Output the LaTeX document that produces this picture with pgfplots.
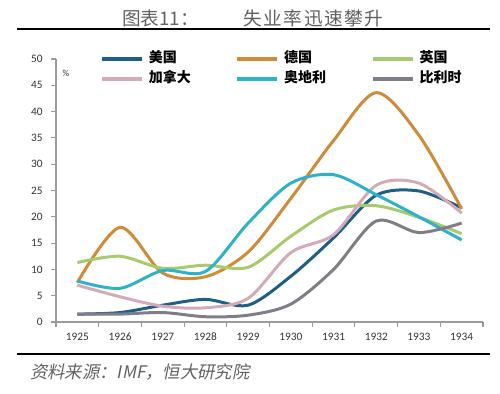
\documentclass[border=0pt]{standalone}
\usepackage{fontspec}
\usepackage{pgfplots}
\pgfplotsset{compat=1.18}
\setmainfont{Carlito}
\newfontfamily\cjk{Noto Sans CJK SC}
\newfontfamily\cjkit[FakeSlant=0.2]{Noto Sans CJK SC}
\definecolor{cUS}{HTML}{1F5E86}
\definecolor{cDE}{HTML}{D08A38}
\definecolor{cUK}{HTML}{A6CA6C}
\definecolor{cCA}{HTML}{D4AAB6}
\definecolor{cAT}{HTML}{2DB2CA}
\definecolor{cBE}{HTML}{7F7E86}
\definecolor{axgray}{HTML}{9A9A9A}
\begin{document}
\begin{tikzpicture}
\path[use as bounding box] (0,0) rectangle (375pt,294.75pt);
\draw[line width=1.5pt] (12.75pt,273pt) -- (367.5pt,273pt);
\draw[line width=1.5pt] (12.75pt,29.25pt) -- (367.5pt,29.25pt);
\node[anchor=west, text=black!62, font=\cjk\fontsize{14}{16}\selectfont, inner sep=0pt] at (91.5pt,281.25pt) {图表11：};
\node[anchor=west, text=black!62, font=\cjk\fontsize{14}{16}\selectfont, inner sep=0pt] at (182.25pt,281.25pt) {失\hspace{1.2pt}业\hspace{1.2pt}率\hspace{1.2pt}迅\hspace{1.2pt}速\hspace{1.2pt}攀\hspace{1.2pt}升};
\node[anchor=west, text=black!62, font=\cjkit\fontsize{13}{15}\selectfont, inner sep=0pt] at (22.5pt,15.75pt) {资料来源：IMF，恒大研究院};
\begin{axis}[at={(42pt,53.25pt)}, anchor=south west, scale only axis,
  width=320.25pt, height=197.25pt,
  xmin=0.5, xmax=10.5, ymin=0, ymax=50,
  axis x line=bottom, axis y line=left,
  axis line style={draw=axgray, line width=0.8pt, -},
  xtick={1,...,10},
  xticklabels={1925,1926,1927,1928,1929,1930,1931,1932,1933,1934},
  minor xtick={0.5,1.5,...,10.5},
  major x tick style={draw=none},
  minor x tick style={draw=axgray, line width=0.8pt},
  ytick={0,5,...,50},
  y tick style={draw=axgray, line width=0.8pt},
  tick align=outside, major tick length=3.5pt, minor tick length=3.5pt,
  ticklabel style={font=\fontsize{8.5}{10}\selectfont, text=black!80},
  yticklabel style={xshift=-3pt},
  xticklabel style={yshift=-1pt},
  /pgf/number format/assume math mode=true,
  clip=false,
  legend columns=3,
  legend style={at={(rel axis cs:0.103,1.027)}, anchor=north west, draw=none, fill=none,
    inner sep=0pt, row sep=5pt, column sep=0pt,
    nodes={inner sep=0pt, anchor=west, font=\cjk\bfseries\fontsize{10.5}{12}\selectfont, text height=8pt, text depth=2pt}},
  legend image code/.code={\draw[#1, line width=2.5pt] (0pt,0pt) -- (30pt,0pt);},
  every axis plot/.append style={smooth, line width=2.25pt, no markers},
]
\addplot[cUS] coordinates {(1,1.5)(2,1.8)(3,3.2)(4,4.3)(5,3.2)(6,8.7)(7,16)(8,24.1)(9,24.9)(10,21.7)};
\addplot[cDE] coordinates {(1,7.5)(2,18)(3,9.3)(4,8.6)(5,13.3)(6,23.5)(7,34.5)(8,43.6)(9,35.5)(10,21.5)};
\addplot[cUK] coordinates {(1,11.3)(2,12.5)(3,10.2)(4,10.8)(5,10.4)(6,16.3)(7,21.3)(8,22.1)(9,19.9)(10,16.8)};
\addplot[cCA] coordinates {(1,7)(2,4.8)(3,3)(4,2.7)(5,4.5)(6,13.2)(7,16.6)(8,26)(9,26.4)(10,20.7)};
\addplot[cAT] coordinates {(1,7.8)(2,6.4)(3,9.8)(4,9.6)(5,18.8)(6,26.4)(7,28)(8,24.2)(9,20)(10,15.6)};
\addplot[cBE] coordinates {(1,1.5)(2,1.5)(3,1.8)(4,1.0)(5,1.3)(6,3.4)(7,10)(8,19.2)(9,17)(10,18.8)};
\legend{\makebox[69pt][l]{\hspace{4pt}美国},\makebox[69pt][l]{\hspace{4pt}德国},\makebox[69pt][l]{\hspace{4pt}英国},\makebox[69pt][l]{\hspace{4pt}加拿大},\makebox[69pt][l]{\hspace{4pt}奥地利},\makebox[69pt][l]{\hspace{4pt}比利时}}
\end{axis}
\node[font=\fontsize{7}{8}\selectfont, text=black!80] at (49.5pt,240pt) {\%};
\end{tikzpicture}
\end{document}
